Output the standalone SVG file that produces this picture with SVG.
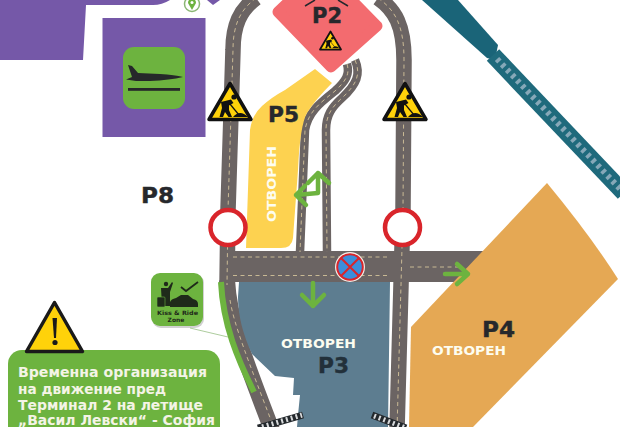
<svg xmlns="http://www.w3.org/2000/svg" width="620" height="427" viewBox="0 0 620 427">
<style>
.road{fill:none;stroke:#6b6463;stroke-linejoin:round}
.dash{fill:none;stroke:#e6d3a4;stroke-width:.9;stroke-dasharray:4 3.500;opacity:.85}
.arrow{fill:none;stroke:#6db33f;stroke-width:4.500;stroke-linecap:round;stroke-linejoin:round}
.lbl{font-family:"DejaVu Sans",sans-serif;font-weight:700;font-size:20.500px;fill:#26282c;stroke:#26282c;stroke-width:.4}
.open{font-family:"DejaVu Sans",sans-serif;font-weight:700;font-size:12.500px;fill:#fdfdf0}
.card{font-family:"DejaVu Sans",sans-serif;font-weight:700;font-size:13.500px;fill:#f4f4e6}
.kiss{font-family:"DejaVu Sans",sans-serif;font-weight:700;font-size:6px;fill:#1f2a1a}
.ring{fill:#fff;stroke:#d9252b;stroke-width:4.500}
.bar{fill:none;stroke:#23282c;stroke-width:7}
.barw{fill:none;stroke:#d8dadc;stroke-width:5;stroke-dasharray:2 3}
</style>
<defs>
<symbol id="work" viewBox="0 0 46 41" overflow="visible">
<path d="M23 2.500L44 38.500H2Z" fill="#ffd20a" stroke="#111" stroke-width="3.500" stroke-linejoin="round"/>
<circle cx="27" cy="16" r="2.600" fill="#111"/>
<path d="M14 21L24 18.500L26.500 22L22 24.500L22 29L25 36H21.500L18 31L16 36H12.500L15 27Z" fill="#111"/>
<path d="M23 23L32 34" stroke="#111" stroke-width="1.200"/>
<path d="M26 36Q33 28 41 36Z" fill="#111"/>
</symbol>
</defs>
<rect width="620" height="427" fill="#fff"/>

<g id="terminal-areas">
<path d="M0 0H170Q162 5 153 5H86L83 60H0Z" fill="#7558a8"/>
<path d="M207 0H220L213 5Z" fill="#7558a8"/>
<rect x="102.500" y="18" width="103" height="119" fill="#7558a8"/>
</g>
<g id="location-pin">
<circle cx="192" cy="4" r="7.500" fill="#fff" stroke="#8ab673" stroke-width="1.500"/>
<path d="M192 10L188 3A4 4 0 1 1 196 3Z" fill="#6db33f"/>
<circle cx="192" cy="2.500" r="1.500" fill="#fff"/>
</g>
<g id="plane-icon">
<rect x="123" y="47" width="62" height="62" rx="11" fill="#6db33f"/>
<path d="M128 65L132 66L138 73L160 74Q175 75 183 77Q170 80 150 81L136 81L126 79.500L132 77Z" fill="#26282a"/>
<rect x="128" y="88" width="52" height="2.800" fill="#26282a"/>
</g>

<g id="rail">
<path d="M422 0H458L498 45L495 60L487 58Z" fill="#1a6478"/>
<path d="M493 55L624 193" fill="none" stroke="#1f6a7c" stroke-width="17"/>
<path d="M497 59L624 193" fill="none" stroke="#86a8b8" stroke-width="6" stroke-dasharray="3.500 3.800"/>
</g>

<g id="connectors">
<path class="road" stroke-width="15.500" d="M256 -2C240 10 233 25 233 50L228 210L227 285"/>
<path class="road" stroke-width="16" d="M227 280C229 320 245 360 272 430"/>
<path class="road" stroke-width="15.500" d="M378 -2C395 10 404 25 404 60L403 210L401 285L397 430"/>
<path class="road" stroke-width="31" d="M220 266.500H490"/>
<path class="road" stroke-width="8.500" d="M347 64C350 74 346 81 335 91C320 103 308 112 305 130L300 252"/>
<path class="road" stroke-width="8.500" d="M355 60C361 74 357 84 342 98C332 107 326 115 326 130L327 252"/>
<path class="dash" d="M256 -2C240 10 233 25 233 50L228 210L227 285"/>
<path class="dash" d="M230 300C234 325 248 360 274 428"/>
<path class="dash" d="M378 -2C395 10 404 25 404 60L403 210L401 285L397 430"/>
<path class="dash" d="M347 64C350 74 346 81 335 91C320 103 308 112 305 130L300 252"/>
<path class="dash" d="M355 60C361 74 357 84 342 98C332 107 326 115 326 130L327 252"/>
<path class="dash" d="M233 257H390M233 275.500H390M410 267H462"/>
<path d="M221 282C223 325 238 360 254 392" fill="none" stroke="#6db33f" stroke-width="6"/>
<path d="M190 328L228 337" fill="none" stroke="#8ab673" stroke-width="0.700"/>
</g>

<g id="P8"><text class="lbl" x="141" y="203" textLength="33" lengthAdjust="spacingAndGlyphs">P8</text></g>

<g id="P5">
<path d="M315 69L332 83Q315 100 307 113Q300 125 298 170L293 238Q292 248 281 248H246L250 130Q252 115 262 106Q272 97 285 90Z" fill="#fdd250"/>
<text class="lbl" x="268" y="122" textLength="31" lengthAdjust="spacingAndGlyphs">P5</text>
<text class="open" transform="translate(276 222) rotate(-90)" textLength="76" lengthAdjust="spacingAndGlyphs">ОТВОРЕН</text>
</g>

<g id="P2">
<path d="M278 12L331 67L377 26L322 -30Z" fill="#f36b6f" stroke="#f36b6f" stroke-width="11" stroke-linejoin="round"/>
<path d="M305 6L315 0M338 0L348 6" stroke="#26282c" stroke-width="1.500" fill="none"/>
<text class="lbl" x="312" y="23" textLength="30" lengthAdjust="spacingAndGlyphs">P2</text>
<use href="#work" x="319" y="30" width="23" height="21"/>
</g>

<g id="P3">
<path d="M239 282H390L388 427H297L298 415L300 395H293L294 378L275 376L252 354C243 335 238 315 238 297Z" fill="#5d7d90"/>
<text class="open" x="281" y="348" textLength="75" lengthAdjust="spacingAndGlyphs">ОТВОРЕН</text>
<text class="lbl" x="318" y="373" textLength="31" lengthAdjust="spacingAndGlyphs" style="fill:#22303a;stroke:#22303a">P3</text>
</g>

<g id="P4">
<path d="M547 183Q590 235 618 279L473 427H409L411 327Z" fill="#e5a854"/>
<text class="lbl" x="482" y="337" textLength="33" lengthAdjust="spacingAndGlyphs">P4</text>
<text class="open" x="432" y="355" textLength="74" lengthAdjust="spacingAndGlyphs">ОТВОРЕН</text>
</g>

<g id="flow-arrows">
<path class="arrow" d="M296 195L318 193V173M308 183L318 173L329 183M305 186L296 195L306 205"/>
<path class="arrow" d="M313 283V306M302 295L313 306L324 295"/>
<path class="arrow" d="M445 274H468M457 264L468 274L457 284"/>
</g>

<g id="barriers">
<path class="bar" d="M258 428L303 415"/>
<path class="barw" d="M262 427L302 415"/>
<path class="bar" d="M372 415L406 428"/>
<path class="barw" d="M374 416L406 428"/>
</g>

<g id="work-left"><use href="#work" x="207" y="81" width="46" height="41"/></g>
<g id="work-right"><use href="#work" x="382" y="81" width="46" height="41"/></g>
<g id="ring-left"><circle class="ring" cx="228" cy="227.500" r="17.500"/></g>
<g id="ring-right"><circle class="ring" cx="402.500" cy="227.500" r="17.500"/></g>
<g id="no-stopping">
<circle cx="350" cy="267" r="15" fill="#f3ece6"/>
<circle cx="350" cy="267" r="12.800" fill="#3b8edb" stroke="#d9252b" stroke-width="2"/>
<path d="M341 258L359 276M359 258L341 276" stroke="#d9252b" stroke-width="2"/>
</g>

<g id="kiss-ride">
<rect x="152" y="274" width="52" height="54" rx="9" fill="#999" opacity=".45"/>
<rect x="151" y="273" width="52" height="53" rx="9" fill="#6db33f"/>
<circle cx="166" cy="284" r="2.200" fill="#1f2a1a"/>
<path d="M161 288H168L172 282L173 283L170 292V306H162Z" fill="#1f2a1a"/>
<rect x="157" y="297" width="8" height="10" rx="1" fill="#1f2a1a" stroke="#6db33f" stroke-width=".6"/>
<path d="M170 307V302Q171 299 176 298L181 295H188L193 299Q198 300 198 304V307Z" fill="#1f2a1a"/>
<path d="M181 287L186 291L198 282" fill="none" stroke="#1f2a1a" stroke-width="1.800"/>
<text class="kiss" x="177.500" y="315" text-anchor="middle" textLength="41" lengthAdjust="spacingAndGlyphs">Kiss &amp; Ride</text>
<text class="kiss" x="176" y="322" text-anchor="middle">Zone</text>
</g>

<g id="notice">
<rect x="8" y="350" width="212" height="100" rx="14" fill="#6db33f"/>
<text class="card" x="18" y="377" textLength="189" lengthAdjust="spacingAndGlyphs">Временна организация</text>
<text class="card" x="18" y="394" textLength="148" lengthAdjust="spacingAndGlyphs">на движение пред</text>
<text class="card" x="18" y="410" textLength="185" lengthAdjust="spacingAndGlyphs">Терминал 2 на летище</text>
<text class="card" x="18" y="425" textLength="197" lengthAdjust="spacingAndGlyphs">„Васил Левски“ - София</text>
</g>
<g id="warning">
<path d="M54.500 302.500L82.500 351.500H26.500Z" fill="#ffd20a" stroke="#1a1a1a" stroke-width="3.500" stroke-linejoin="round"/>
<path d="M52.500 318H57L56 338H54Z" fill="#1a1a1a"/>
<circle cx="55" cy="342.500" r="2.600" fill="#1a1a1a"/>
</g>
</svg>
